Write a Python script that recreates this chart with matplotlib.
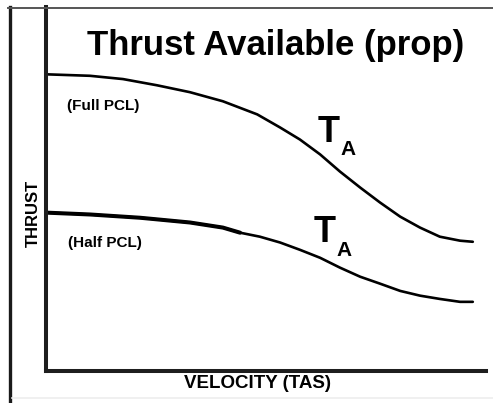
import matplotlib.pyplot as plt
from matplotlib import font_manager
from matplotlib.lines import Line2D

# velocity (TAS) and thrust, arbitrary 0-100 units
velocity_full = [0.2, 10.0, 17.5, 25.2, 32.7, 40.2, 48.0, 53.2, 57.7, 62.3,
                 66.8, 71.4, 75.9, 80.5, 85.0, 89.5, 94.1, 97.0]
thrust_full = [81.5, 81.1, 80.2, 78.5, 76.6, 74.1, 70.5, 66.9, 63.6, 59.5,
               54.8, 50.4, 46.3, 42.4, 39.4, 36.9, 35.8, 35.5]

velocity_half = [0.2, 10.0, 21.4, 32.7, 40.2, 44.1, 48.6, 53.2, 57.7, 62.3,
                 66.8, 71.4, 75.9, 80.5, 85.0, 89.5, 94.1, 97.0]
thrust_half = [43.5, 43.0, 42.1, 40.8, 39.4, 38.0, 36.9, 35.3, 33.3, 31.1,
               28.4, 25.9, 24.0, 22.0, 20.7, 19.8, 19.0, 19.0]

title = "Thrust Available (prop)"
curve_labels = ["(Full PCL)", "(Half PCL)"]
x_label = "VELOCITY (TAS)"
y_label = "THRUST"

installed = {f.name for f in font_manager.fontManager.ttflist}
narrow = "Liberation Sans Narrow" if "Liberation Sans Narrow" in installed else "Liberation Sans"

W, H = 493, 403
fig = plt.figure(figsize=(W / 100, H / 100), dpi=100)

# axes box in pixels: x 46..486, y 8..371 (from top)
ax = fig.add_axes([46 / W, 1 - 371 / H, 440 / W, 364 / H])
ax.set_xlim(0, 100)
ax.set_ylim(0, 100)
for side in ["top", "right"]:
    ax.spines[side].set_visible(False)
for side in ["left", "bottom"]:
    ax.spines[side].set_linewidth(2.9)
    ax.spines[side].set_color("#1e1e1e")
    ax.spines[side].set_capstyle("projecting")
ax.set_xticks([])
ax.set_yticks([])

ax.plot(velocity_full, thrust_full, color="black", lw=1.9,
        solid_capstyle="round", solid_joinstyle="round")
ax.plot(velocity_half, thrust_half, color="black", lw=1.9,
        solid_capstyle="round", solid_joinstyle="round")
# heavier ink on the left part of the half-PCL curve
ax.plot(velocity_half[:6], thrust_half[:6], color="black", lw=2.9,
        solid_capstyle="round", solid_joinstyle="round")

# outer frame
fig.add_artist(Line2D([9.5 / W, 9.5 / W], [0, 1 - 7 / H], color="#1a1a1a", lw=2.4))
fig.add_artist(Line2D([8 / W, 1], [1 - 8 / H, 1 - 8 / H], color="#555555", lw=1.4))
fig.add_artist(Line2D([12 / W, 1], [1 - 398 / H, 1 - 398 / H], color="#eeeeee", lw=1.2))

fig.text(276 / W, 1 - 45 / H, title, ha="center", va="center",
         fontsize=25, fontweight="bold", family=narrow)

lab_font = dict(fontweight="bold", family=narrow, color="black")
fig.text(103 / W, 1 - 106 / H, curve_labels[0], ha="center", va="center", fontsize=11, **lab_font)
fig.text(105 / W, 1 - 243 / H, curve_labels[1], ha="center", va="center", fontsize=11, **lab_font)

# T_A labels next to each curve
for tx, ty in [(329, 132), (325, 232)]:
    fig.text(tx / W, 1 - ty / H, "T", ha="center", va="center", fontsize=26,
             fontweight="bold", family="Liberation Sans")
    fig.text((tx + 19) / W, 1 - (ty + 18) / H, "A", ha="center", va="center", fontsize=15,
             fontweight="bold", family="Liberation Sans")

fig.text(257 / W, 1 - 384 / H, x_label, ha="center", va="center", fontsize=13.5, **lab_font)
fig.text(33 / W, 1 - 213 / H, y_label, ha="center", va="center", fontsize=12,
         rotation=90, **lab_font)

fig.savefig("out.png", dpi=100)
